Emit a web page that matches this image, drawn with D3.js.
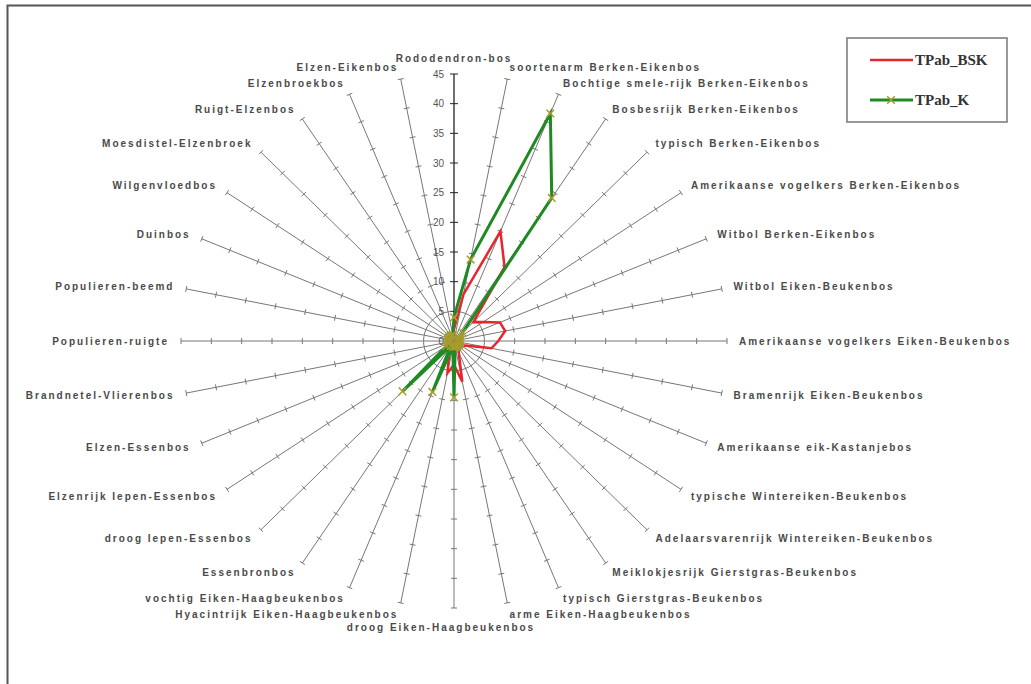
<!DOCTYPE html>
<html>
<head>
<meta charset="utf-8">
<script src="https://cdn.jsdelivr.net/npm/d3@7"></script>
<style>
    body { margin: 0; background: #fff; }
    .cat-label {
        font-family: "Liberation Sans", Arial, sans-serif;
        font-size: 10px;
        font-weight: bold;
        letter-spacing: 2px;
        fill: #4a4a4a;
    }
    .tick-label {
        font-family: "Liberation Sans", Arial, sans-serif;
        font-size: 10px;
        fill: #555;
    }
    .legend-label {
        font-family: "Liberation Serif", "Times New Roman", serif;
        font-size: 15px;
        font-weight: bold;
        fill: #333;
    }
</style>
</head>
<body>
<svg id="radar-plot"></svg>
<script>
// Categories, clockwise from the top
const categories = [
    "Rododendron-bos",
    "soortenarm Berken-Eikenbos",
    "Bochtige smele-rijk Berken-Eikenbos",
    "Bosbesrijk Berken-Eikenbos",
    "typisch Berken-Eikenbos",
    "Amerikaanse vogelkers Berken-Eikenbos",
    "Witbol Berken-Eikenbos",
    "Witbol Eiken-Beukenbos",
    "Amerikaanse vogelkers Eiken-Beukenbos",
    "Bramenrijk Eiken-Beukenbos",
    "Amerikaanse eik-Kastanjebos",
    "typische Wintereiken-Beukenbos",
    "Adelaarsvarenrijk Wintereiken-Beukenbos",
    "Meiklokjesrijk Gierstgras-Beukenbos",
    "typisch Gierstgras-Beukenbos",
    "arme Eiken-Haagbeukenbos",
    "droog Eiken-Haagbeukenbos",
    "Hyacintrijk Eiken-Haagbeukenbos",
    "vochtig Eiken-Haagbeukenbos",
    "Essenbronbos",
    "droog Iepen-Essenbos",
    "Elzenrijk Iepen-Essenbos",
    "Elzen-Essenbos",
    "Brandnetel-Vlierenbos",
    "Populieren-ruigte",
    "Populieren-beemd",
    "Duinbos",
    "Wilgenvloedbos",
    "Moesdistel-Elzenbroek",
    "Ruigt-Elzenbos",
    "Elzenbroekbos",
    "Elzen-Eikenbos"
];

const tpabBsk = [2, 8, 20, 15, 4.5, 5.8, 8.2, 8.6, 7.3, 6.3, 2, 1.5, 1.5, 1.5, 2, 7,
    4, 5.5, 2, 1.5, 1, 1, 1, 1, 1, 1, 1, 1, 1, 1, 1, 1];

const tpabK = [4, 14, 41.5, 29, 2, 1, 1, 1, 1, 1, 1, 1, 1, 1, 1, 1,
    9.5, 1, 9.3, 1, 12, 1.5, 1, 1, 1, 1, 1, 1, 1, 1, 1, 1];

const valueTicks = [0, 5, 10, 15, 20, 25, 30, 35, 40, 45];

const seriesNames = ["TPab_BSK", "TPab_K"];

class RadarChart {
    constructor() {
        this.vizWidth = 1031;
        this.vizHeight = 684;
        this.cx = 454;
        this.cy = 341;
        // the picture is slightly wider than tall
        this.rx = 273;
        this.ry = 267;

        this.xScale = d3.scaleLinear().domain([0, 45]).range([0, this.rx]);
        this.yScale = d3.scaleLinear().domain([0, 45]).range([0, this.ry]);
        this.angle = d3.scaleLinear().domain([0, categories.length]).range([0, 2 * Math.PI]);
    }

    point(i, v) {
        let a = this.angle(i);
        return [this.cx + this.xScale(v) * Math.sin(a), this.cy - this.yScale(v) * Math.cos(a)];
    }

    draw() {
        let svg = d3.select("#radar-plot")
            .attr("width", this.vizWidth)
            .attr("height", this.vizHeight);

        // outer frame (only top and left edges are visible)
        svg.append("rect")
            .attr("x", 7.5).attr("y", 5.5)
            .attr("width", 1100).attr("height", 800)
            .attr("fill", "none")
            .attr("stroke", "#555")
            .attr("stroke-width", 2);

        this.drawAxes(svg);
        this.drawSeries(svg);
        this.drawLegend(svg);
    }

    drawAxes(svg) {
        let that = this;
        let axes = svg.append("g");

        axes.selectAll("line.spoke")
            .data(categories)
            .join("line")
            .attr("class", "spoke")
            .attr("x1", this.cx).attr("y1", this.cy)
            .attr("x2", (d, i) => that.point(i, 45)[0])
            .attr("y2", (d, i) => that.point(i, 45)[1])
            .attr("stroke", (d, i) => i === 0 ? "#222" : "#777")
            .attr("stroke-width", (d, i) => i === 0 ? 1.3 : 1);

        // tick marks across each spoke
        let tickData = [];
        categories.forEach((c, i) => {
            valueTicks.slice(1).forEach(v => tickData.push({ i: i, v: v }));
        });
        axes.selectAll("line.tick")
            .data(tickData)
            .join("line")
            .attr("class", "tick")
            .each(function(d) {
                let p = that.point(d.i, d.v);
                let a = that.angle(d.i);
                let len = d.i === 0 ? 4 : 3;
                d3.select(this)
                    .attr("x1", p[0] - len * Math.cos(a)).attr("y1", p[1] - len * Math.sin(a))
                    .attr("x2", p[0] + len * Math.cos(a)).attr("y2", p[1] + len * Math.sin(a));
            })
            .attr("stroke", d => d.i === 0 ? "#222" : "#777")
            .attr("stroke-width", 1);

        // value labels on the vertical axis
        axes.selectAll("text.tick-label")
            .data(valueTicks)
            .join("text")
            .attr("class", "tick-label")
            .attr("x", this.cx - 10)
            .attr("y", d => this.cy - this.yScale(d))
            .attr("dy", "0.35em")
            .attr("text-anchor", "end")
            .text(d => d);

        // category labels
        axes.selectAll("text.cat-label")
            .data(categories)
            .join("text")
            .attr("class", "cat-label")
            .each(function(d, i) {
                let a = that.angle(i);
                let p = that.point(i, 45);
                let deg = i * 360 / categories.length;
                let anchor = "middle";
                if (deg > 0 && deg < 180) anchor = "start";
                if (deg > 180) anchor = "end";
                let off = deg === 0 ? 16 : (deg === 180 ? 19 : 12);
                let shift = deg === 180 ? -13 : 0; // bottom label sits a little left
                d3.select(this)
                    .attr("x", p[0] + off * Math.sin(a) + shift)
                    .attr("y", p[1] - off * Math.cos(a))
                    .attr("dy", "0.35em")
                    .attr("text-anchor", anchor);
            })
            .text(d => d);
    }

    drawSeries(svg) {
        let that = this;
        let line = d3.line()
            .x((d, i) => that.point(i, d)[0])
            .y((d, i) => that.point(i, d)[1])
            .curve(d3.curveLinearClosed);

        svg.append("path")
            .datum(tpabBsk)
            .attr("d", line)
            .attr("fill", "none")
            .attr("stroke", "#e8242c")
            .attr("stroke-width", 2.5)
            .attr("stroke-linejoin", "miter");

        svg.append("path")
            .datum(tpabK)
            .attr("d", line)
            .attr("fill", "none")
            .attr("stroke", "#1f8a24")
            .attr("stroke-width", 3)
            .attr("stroke-linejoin", "miter");

        svg.append("g")
            .selectAll("path")
            .data(tpabK)
            .join("path")
            .attr("d", d3.symbol(d3.symbolX, 40))
            .attr("transform", (d, i) => `translate(${that.point(i, d)[0]},${that.point(i, d)[1]})`)
            .attr("fill", "none")
            .attr("stroke", "#a69c2c")
            .attr("stroke-width", 1.5);
    }

    drawLegend(svg) {
        let colors = ["#e8242c", "#1f8a24"];
        let legend = svg.append("g");

        legend.append("rect")
            .attr("x", 847).attr("y", 38)
            .attr("width", 160).attr("height", 84)
            .attr("fill", "#fff")
            .attr("stroke", "#777")
            .attr("stroke-width", 1.5);

        legend.selectAll("line")
            .data(seriesNames)
            .join("line")
            .attr("x1", 870).attr("x2", 913)
            .attr("y1", (d, i) => 60 + i * 40)
            .attr("y2", (d, i) => 60 + i * 40)
            .attr("stroke", (d, i) => colors[i])
            .attr("stroke-width", (d, i) => i === 0 ? 2.5 : 3);

        legend.append("path")
            .attr("d", d3.symbol(d3.symbolX, 40))
            .attr("transform", "translate(891,100)")
            .attr("fill", "none")
            .attr("stroke", "#a69c2c")
            .attr("stroke-width", 1.5);

        legend.selectAll("text")
            .data(seriesNames)
            .join("text")
            .attr("class", "legend-label")
            .attr("x", 915)
            .attr("y", (d, i) => 60 + i * 40)
            .attr("dy", "0.35em")
            .text(d => d);
    }
}

let chart = new RadarChart();
chart.draw();
</script>
</body>
</html>
